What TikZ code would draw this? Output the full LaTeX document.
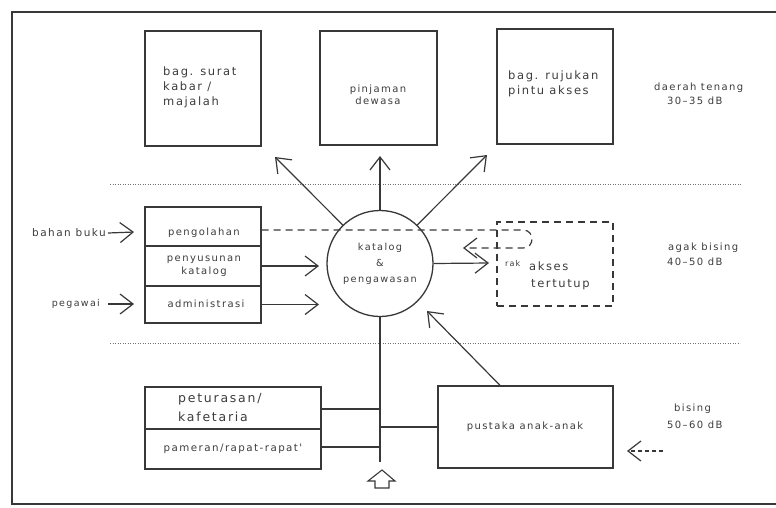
\documentclass[tikz,border=0pt]{standalone}
\usepackage{fontspec}
\newfontfamily\lab{DejaVu Sans}[LetterSpace=14]
\usetikzlibrary{arrows.meta}
\definecolor{ink}{HTML}{383838}
\definecolor{txt}{HTML}{3C3C3C}
\definecolor{dotc}{HTML}{707070}
\begin{document}
\begin{tikzpicture}[x=1pt,y=-1pt,
  box/.style={draw=ink,line width=1.3pt,rectangle,inner sep=0pt},
  lbl/.style={text=txt,inner sep=0pt,align=center,font=\lab\fontsize{10}{12}\selectfont},
  tip/.style={-{Straight Barb[length=13pt,width=20pt,line width=1.2pt]}},
  arr/.style={draw=ink,line width=1.2pt,tip},
  ln/.style={draw=ink,line width=1.2pt},
  dotline/.style={draw=dotc,line width=1pt,dash pattern=on 1.2pt off 1.3pt},
  dsh/.style={draw=ink,line width=1.2pt,dash pattern=on 7pt off 5pt},
  sdsh/.style={draw=ink,line width=1.2pt,dash pattern=on 4pt off 3pt}]
\useasboundingbox (0,0) rectangle (776,507);
% frame
\draw[draw=ink,line width=2.2pt] (778,12) -- (12,12) -- (12,504) -- (778,504);
% dotted zone lines
\coordinate (z1a) at (110,184); \coordinate (z1b) at (742,184);
\coordinate (z2a) at (110,343); \coordinate (z2b) at (740,343);
\draw[dotline] (z1a) -- (z1b);
\draw[dotline] (z2a) -- (z2b);
% top boxes
\node[box,minimum width=116pt,minimum height=115pt] (b1) at (203,88.5) {};
\node[lbl,anchor=west,align=left,font=\lab\fontsize{11.5}{15}\selectfont] (t1) at (163,87) {bag. surat\\kabar /\\majalah};
\node[box,minimum width=117pt,minimum height=114pt] (b2) at (378.5,88) {};
\node[lbl] (t2) at (378,94.5) {pinjaman\\dewasa};
\node[box,minimum width=116pt,minimum height=115pt] (b3) at (555,86.5) {};
\node[lbl,anchor=west,align=left,font=\lab\fontsize{11.5}{15}\selectfont] (t3) at (508,84) {bag. rujukan\\pintu akses};
\node[lbl,anchor=west] (q1) at (654,88) {daerah tenang};
\node[lbl,anchor=west] (q2) at (667,101) {30–35 dB};
% processing stack
\node[box,minimum width=116pt,minimum height=39pt] (p1) at (203,226.5) {};
\node[box,minimum width=116pt,minimum height=40pt] (p2) at (203,266) {};
\node[box,minimum width=116pt,minimum height=37pt] (p3) at (203,304.5) {};
\node[lbl] (tp1) at (204,233) {pengolahan};
\node[lbl,font=\lab\fontsize{10}{13}\selectfont] (tp2) at (204,266.5) {penyusunan\\katalog};
\node[lbl] (tp3) at (206,304) {administrasi};
\node[lbl,anchor=east,font=\lab\fontsize{10.5}{12}\selectfont] (in1) at (106,233) {bahan buku};
\node[lbl,anchor=east,font=\lab\fontsize{9.5}{12}\selectfont] (in2) at (100,304) {pegawai};
\coordinate (a1) at (134,232); \coordinate (a2) at (134,304);
\draw[arr] ([xshift=2pt]in1.east) -- (a1);
\draw[arr] ([xshift=8pt]in2.east) -- (a2);
% centre circle
\node[circle,draw=ink,line width=1.3pt,minimum size=106pt,inner sep=0pt,text=txt,align=center,font=\lab\fontsize{9.7}{16}\selectfont] (C) at (380,263.5) {katalog\\\&\\pengawasan};
\coordinate (c2) at (319,266); \coordinate (c3) at (319,304.5);
\draw[arr] (p2.east) -- (c2);
\draw[arr] (p3.east) -- (c3);
\coordinate (u1) at (275,157); \coordinate (u2) at (380,156); \coordinate (u3) at (487,155);
\draw[arr] (C.134) -- (u1);
\draw[arr] (C.90) -- (u2);
\draw[arr] (C.46) -- (u3);
% closed access shelves
\node[box,dsh,minimum width=116pt,minimum height=84pt] (D) at (555,264) {};
\node[lbl,anchor=base west,font=\lab\fontsize{8}{10}\selectfont] (rk) at (505,266) {rak};
\node[lbl,anchor=base west,font=\lab\fontsize{11.5}{14}\selectfont] (ak) at (529,270) {akses};
\node[lbl,anchor=base west,font=\lab\fontsize{11.5}{14}\selectfont] (tt) at (531,287) {tertutup};
\coordinate (r0) at (489,263);
\draw[arr] (C.0) -- (r0);
\coordinate (lp1) at (523,230); \coordinate (lp2) at (523,248); \coordinate (r1) at (463,248);
\draw[dsh,tip] ([yshift=-3.5pt]p1.east) -- (lp1) .. controls (535,230) and (535,248) .. (lp2) -- (r1);
\node[lbl,anchor=west] (g1) at (668,248) {agak bising};
\node[lbl,anchor=west] (g2) at (667,262) {40–50 dB};
% bottom zone
\node[box,minimum width=176pt,minimum height=42pt] (B1) at (233,408) {};
\node[box,minimum width=176pt,minimum height=40pt] (B2) at (233,449) {};
\node[lbl,anchor=west,align=left,font=\lab\fontsize{12.5}{19}\selectfont] (tb1) at (178,408) {peturasan/\\kafetaria};
\node[lbl,font=\lab\fontsize{10.3}{12}\selectfont] (tb2) at (233,449) {pameran/rapat-rapat'};
\node[box,minimum width=175pt,minimum height=82pt] (K) at (525.5,427) {};
\node[lbl] (tk) at (525,427) {pustaka anak-anak};
\coordinate (v1) at (380,462);
\draw[ln] (C.south) -- (v1);
\draw[ln] ([yshift=-1pt]B1.east) -- ([yshift=-1pt]B1.east -| C.south);
\draw[ln] ([yshift=2pt]B2.east) -- ([yshift=2pt]B2.east -| C.south);
\draw[ln] (K.west -| C.south) -- (K.west);
\coordinate (k1) at (427,311);
\draw[arr] ([xshift=-25.5pt]K.north) -- (k1);
\node[lbl,anchor=west] (s1) at (674,409) {bising};
\node[lbl,anchor=west] (s2) at (667,425) {50–60 dB};
\coordinate (e1) at (663,451); \coordinate (e2) at (627,451);
\draw[sdsh,tip] (e1) -- (e2);
% entrance symbol
\draw[ln,line width=1.1pt,line join=miter] (382,470) -- (395,481) -- (389,481) -- (389,488) -- (375,488) -- (375,481) -- (368,481) -- cycle;
\end{tikzpicture}
\end{document}
